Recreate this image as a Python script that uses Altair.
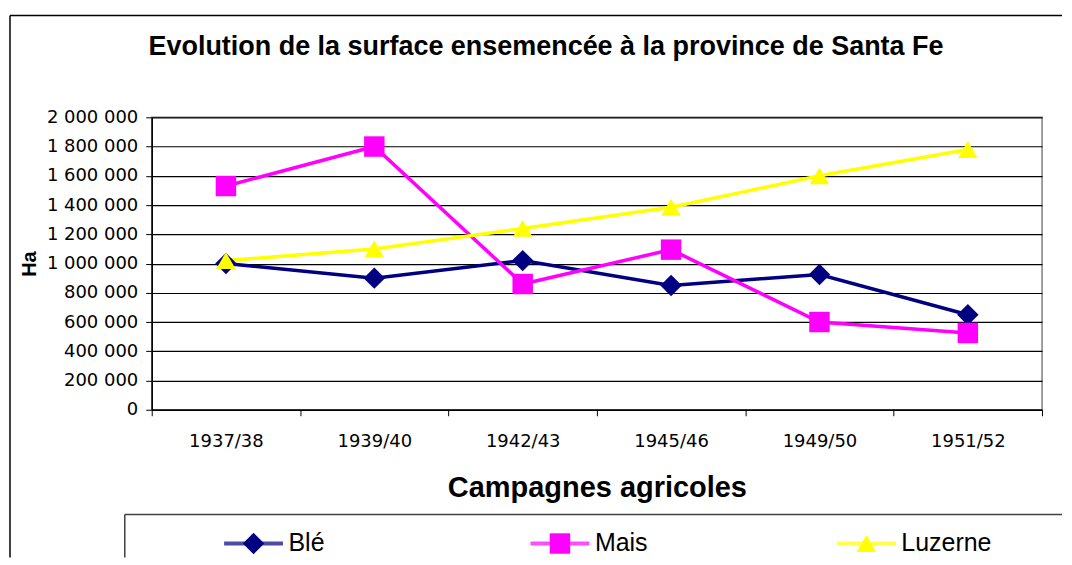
import altair as alt
import pandas as pd

campagnes = ["1937/38", "1939/40", "1942/43", "1945/46", "1949/50", "1951/52"]
ble = [1000000, 900000, 1020000, 850000, 925000, 650000]
mais = [1530000, 1800000, 860000, 1095000, 600000, 525000]
luzerne = [1020000, 1100000, 1240000, 1385000, 1600000, 1780000]
series = ["Blé", "Mais", "Luzerne"]
colors = ["#000080", "#FF00FF", "#FFFF00"]
shapes = ["diamond", "square", "triangle-up"]
y_ticks = [0, 200000, 400000, 600000, 800000, 1000000, 1200000, 1400000, 1600000, 1800000, 2000000]
title_text = "Evolution de la surface ensemencée à la province de Santa Fe"

rows = []
for name, vals in zip(series, [ble, mais, luzerne]):
    for c, v in zip(campagnes, vals):
        rows.append({"campagne": c, "serie": name, "ha": v})
df = pd.DataFrame(rows)

color = alt.Color("serie:N", scale=alt.Scale(domain=series, range=colors), legend=None)
shape = alt.Shape("serie:N", scale=alt.Scale(domain=series, range=shapes), legend=None)

x = alt.X(
    "campagne:N",
    sort=campagnes,
    scale=alt.Scale(type="band", domain=campagnes, paddingInner=0, paddingOuter=0),
    axis=alt.Axis(
        title="Campagnes agricoles",
        labelAngle=0,
        tickBand="extent",
        tickSize=6,
        labelPadding=17,
        labelFont="DejaVu Sans",
        labelFontSize=18,
        titleFont="Liberation Sans",
        titleFontSize=29,
        titleFontWeight="bold",
        titlePadding=23,
        grid=False,
    ),
)
y = alt.Y(
    "ha:Q",
    scale=alt.Scale(domain=[0, 2000000]),
    axis=alt.Axis(
        values=y_ticks,
        labelExpr="replace(format(datum.value, ','), /,/g, ' ')",
        title="Ha",
        tickSize=6,
        labelPadding=8,
        labelFont="DejaVu Sans",
        labelFontSize=18,
        titleFont="Liberation Sans",
        titleFontSize=20,
        titleFontWeight="bold",
        titlePadding=7,
        grid=True,
        gridColor="#000000",
        gridWidth=1.2,
    ),
)

base = alt.Chart(df).encode(x=x, y=y, color=color)
lines = base.mark_line(strokeWidth=3.5)
points = base.mark_point(filled=True, opacity=1).encode(
    shape=shape,
    size=alt.Size("serie:N", scale=alt.Scale(domain=series, range=[460, 380, 500]), legend=None),
)

main = alt.layer(lines, points).properties(
    width=892,
    height=293,
    title=alt.TitleParams(
        text=title_text,
        font="Liberation Sans",
        fontSize=27,
        fontWeight="bold",
        anchor="middle",
        dx=-51,
        offset=47,
        color="#000000",
    ),
)

# legend panel
leg_df = pd.DataFrame({"serie": series})
lx = alt.X(
    "serie:N",
    sort=series,
    scale=alt.Scale(type="point", domain=series, range=[102, 716], padding=0),
    axis=None,
)
leg_base = alt.Chart(leg_df).encode(x=lx, y=alt.value(29))
leg_lines = leg_base.mark_tick(orient="horizontal", size=59, thickness=4).encode(color=color)
leg_pts = leg_base.mark_point(filled=True, opacity=1).encode(
    color=color,
    shape=shape,
    size=alt.Size("serie:N", scale=alt.Scale(domain=series, range=[220, 256, 360]), legend=None),
)
leg_text = leg_base.mark_text(
    align="left", baseline="middle", dx=35, font="Liberation Sans", fontSize=25, color="#000000"
).encode(text="serie:N")

box_df = pd.DataFrame({"k": [0]})
# outer chart frame (top and left edges; the others fall outside the picture)
frame_top = alt.Chart(box_df).mark_rule(color="#000000", strokeWidth=1.5).encode(
    x=alt.value(-142), x2=alt.value(912), y=alt.value(-500)
)
frame_left = alt.Chart(box_df).mark_rule(color="#000000", strokeWidth=1.5).encode(
    x=alt.value(-142), y=alt.value(-500), y2=alt.value(43)
)
# legend box (top and left edges)
box_top = alt.Chart(box_df).mark_rule(color="#404040", strokeWidth=1.5).encode(
    x=alt.value(-27), x2=alt.value(912), y=alt.value(0)
)
box_left = alt.Chart(box_df).mark_rule(color="#404040", strokeWidth=1.5).encode(
    x=alt.value(-27), y=alt.value(0), y2=alt.value(43)
)

legend = alt.layer(frame_top, frame_left, box_top, box_left, leg_lines, leg_pts, leg_text).properties(
    width=892, height=43, view=alt.ViewBackground(stroke="transparent")
)

chart = (
    alt.vconcat(main, legend, spacing=105, bounds="flush")
    .properties(padding={"left": 0, "top": 5, "right": 0, "bottom": 0}, background="white")
    .configure_view(stroke="#808080", strokeWidth=1.5)
    .configure_axis(domainColor="#000000", tickColor="#000000", labelColor="#000000", titleColor="#000000", domainWidth=1.5)
)

chart.save("out.html", embed_options={"renderer": "svg", "actions": False})
